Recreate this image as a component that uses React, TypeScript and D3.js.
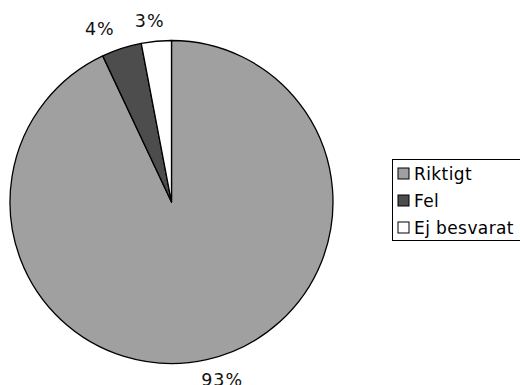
import React from "react";
import * as d3 from "d3";

const categories = ["Riktigt", "Fel", "Ej besvarat"];
const values = [93, 4, 3];
const labels = ["93%", "4%", "3%"];
const colors = ["#A0A0A0", "#4D4D4D", "#FFFFFF"];

const W = 520;
const H = 385;
const cx = 171.5;
const cy = 202;
const radius = 161.5;
// Labels sit on an ellipse around the pie: wider horizontally to leave room for text width.
const labelRy = 182;
const labelRx = 232;
const font = "'DejaVu Sans', Verdana, sans-serif";

export default function App() {
  const pie = d3
    .pie<number>()
    .sort(null)
    .startAngle(0)
    .endAngle(2 * Math.PI)(values);

  const arc = d3
    .arc<d3.PieArcDatum<number>>()
    .innerRadius(0)
    .outerRadius(radius);

  const legendX = 392.5;
  const legendY = 159.5;
  const rowH = 27;

  return (
    <svg
      width={W}
      height={H}
      style={{ position: "absolute", left: 0, top: 0, background: "#fff" }}
      fontFamily={font}
    >
      <g transform={`translate(${cx},${cy})`}>
        {pie.map((d, i) => (
          <path
            key={categories[i]}
            d={arc(d) || ""}
            fill={colors[i]}
            stroke="#000"
            strokeWidth={1.3}
            strokeLinejoin="round"
          />
        ))}
        {pie.map((d, i) => {
          const a = (d.startAngle + d.endAngle) / 2;
          const x = Math.sin(a) * labelRx;
          const y = -Math.cos(a) * labelRy;
          return (
            <text
              key={labels[i]}
              x={x}
              y={y + 6}
              textAnchor="middle"
              fontSize={17.5}
              letterSpacing={1}
              fill="#111"
            >
              {labels[i]}
            </text>
          );
        })}
      </g>
      <rect
        x={legendX}
        y={legendY}
        width={140}
        height={rowH * 3}
        fill="#fff"
        stroke="#000"
        strokeWidth={1}
      />
      {categories.map((c, i) => (
        <g key={c} transform={`translate(${legendX + 5.5},${legendY + 8.5 + i * rowH})`}>
          <rect width={11} height={11} fill={colors[i]} stroke="#000" strokeWidth={1} />
          <text x={16} y={11.5} fontSize={17} letterSpacing={0.4} fill="#000">
            {c}
          </text>
        </g>
      ))}
    </svg>
  );
}
